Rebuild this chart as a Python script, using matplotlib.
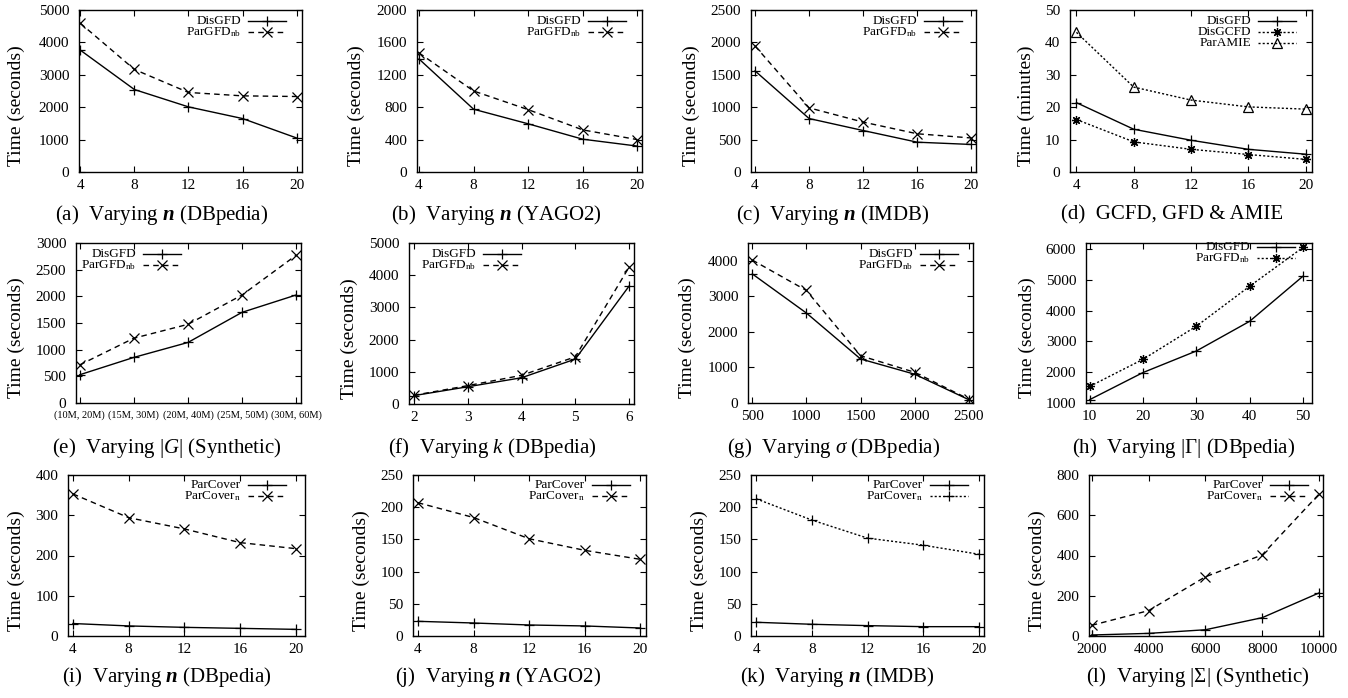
import matplotlib.pyplot as plt

plt.rcParams['font.family'] = ['Liberation Serif', 'DejaVu Serif']
plt.rcParams['mathtext.fontset'] = 'custom'
plt.rcParams['mathtext.rm'] = 'Liberation Serif'
plt.rcParams['mathtext.it'] = 'Liberation Serif:italic'
plt.rcParams['mathtext.bf'] = 'Liberation Serif:bold'
plt.rcParams['mathtext.bfit'] = 'Liberation Serif:bold:italic'

# ---- data ----
n_workers = [4, 8, 12, 16, 20]

dbp_disgfd = [3760, 2545, 2010, 1650, 1050]
dbp_pargfd = [4590, 3165, 2455, 2350, 2330]
yago_disgfd = [1395, 775, 595, 405, 320]
yago_pargfd = [1470, 1000, 770, 520, 400]
imdb_disgfd = [1560, 825, 640, 460, 425]
imdb_pargfd = [1945, 990, 770, 590, 525]

cmp_disgfd = [21.4, 13.2, 9.8, 7.0, 5.5]
cmp_disgcfd = [16.2, 9.3, 7.0, 5.4, 3.9]
cmp_paramie = [43.1, 26.2, 22.2, 20.1, 19.4]

g_sizes = ['(10M, 20M)', '(15M, 30M)', '(20M, 40M)', '(25M, 50M)', '(30M, 60M)']
g_disgfd = [530, 855, 1135, 1700, 2025]
g_pargfd = [715, 1215, 1475, 2025, 2770]

k_values = [2, 3, 4, 5, 6]
k_disgfd = [260, 535, 815, 1395, 3665]
k_pargfd = [270, 570, 890, 1465, 4255]

sigma_values = [500, 1000, 1500, 2000, 2500]
sigma_disgfd = [3630, 2530, 1240, 810, 95]
sigma_pargfd = [4020, 3165, 1330, 865, 110]

gamma_values = [10, 20, 30, 40, 50]
gamma_disgfd = [1110, 1990, 2690, 3655, 5120]
gamma_pargfd = [1540, 2420, 3495, 4795, 6055]

cov_dbp = [31, 25, 21.5, 19, 16.5]
cov_n_dbp = [353, 294, 266, 232, 217]
cov_yago = [22.8, 20.2, 17.1, 15.6, 12.4]
cov_n_yago = [207, 184, 151, 133, 119]
cov_imdb = [21.3, 18.2, 16.1, 14.5, 14.5]
cov_n_imdb = [213, 180, 152, 141, 127]

sigma_sizes = [2000, 4000, 6000, 8000, 10000]
cov_syn = [5, 13, 31, 91, 214]
cov_n_syn = [53, 126, 294, 403, 705]

# ---- styles ----
solid_plus = dict(ls='-', marker='+')
dash_x = dict(ls=(0, (4, 3)), marker='x')
dot_star = dict(ls=(0, (1.5, 1.5)), marker=(8, 2, 0))
dot_tri = dict(ls=(0, (1.5, 1.5)), marker='^', mfc='none')
dot_plus = dict(ls=(0, (1.5, 1.5)), marker='+')

DIS = 'DisGFD'
PAR = 'ParGFD$_{\\mathrm{nb}}$'
COV = 'ParCover'
COVN = 'ParCover$_{\\mathrm{n}}$'
SEC = 'Time (seconds)'

W, H = 1348, 698
fig = plt.figure(figsize=(W / 100, H / 100), dpi=100)

# (box l, r, t, b px), xs, series, xlim, ylim, yticks, legend(side, off, top), ylabel x, caption (x, y, text)
panels = [
    ((79, 302, 10, 172), n_workers, [(DIS, dbp_disgfd, solid_plus), (PAR, dbp_pargfd, dash_x)],
     (3.9, 20.4), (0, 5000), range(0, 5001, 1000), ('r', 16, 11), 17, SEC,
     (162, 215, '(a)  Varying $\\mathbfit{n}$ (DBpedia)')),
    ((417, 642, 10, 172), n_workers, [(DIS, yago_disgfd, solid_plus), (PAR, yago_pargfd, dash_x)],
     (3.85, 20.35), (0, 2000), range(0, 2001, 400), ('r', 16, 11), 357, SEC,
     (496, 215, '(b)  Varying $\\mathbfit{n}$ (YAGO2)')),
    ((751, 976, 10, 172), n_workers, [(DIS, imdb_disgfd, solid_plus), (PAR, imdb_pargfd, dash_x)],
     (3.7, 20.35), (0, 2500), range(0, 2501, 500), ('r', 14, 11), 692, SEC,
     (833, 215, '(c)  Varying $\\mathbfit{n}$ (IMDB)')),
    ((1070, 1312, 10, 172), n_workers, [(DIS, cmp_disgfd, solid_plus), ('DisGCFD', cmp_disgcfd, dot_star),
                                        ('ParAMIE', cmp_paramie, dot_tri)],
     (3.55, 20.45), (0, 50), range(0, 51, 10), ('r', 16, 11), 1027, 'Time (minutes)',
     (1172, 215, '(d)  GCFD, GFD & AMIE')),
    ((76, 301, 243, 403), g_sizes, [(DIS, g_disgfd, solid_plus), (PAR, g_pargfd, dash_x)],
     (-0.07, 4.09), (0, 3000), range(0, 3001, 500), ('l', 67, 11), 17, SEC,
     (167, 448, '(e)  Varying $|G|$ (Synthetic)')),
    ((409, 634, 243, 404), k_values, [(DIS, k_disgfd, solid_plus), (PAR, k_pargfd, dash_x)],
     (1.91, 6.09), (0, 5000), range(0, 5001, 1000), ('l', 74, 11), 350, SEC,
     (492, 448, '(f)  Varying $k$ (DBpedia)')),
    ((748, 973, 243, 403), sigma_values, [(DIS, sigma_disgfd, solid_plus), (PAR, sigma_pargfd, dash_x)],
     (460, 2540), (0, 4500), range(0, 4001, 1000), ('r', 15, 11), 688, SEC,
     (834, 448, '(g)  Varying $\\sigma$ (DBpedia)')),
    ((1086, 1312, 243, 403), gamma_values, [(DIS, gamma_disgfd, solid_plus), (PAR, gamma_pargfd, dot_star)],
     (9.3, 51.7), (1000, 6200), range(1000, 6001, 1000), ('r', 17, 4), 1028, SEC,
     (1184, 448, '(h)  Varying $|\\Gamma|$ (DBpedia)')),
    ((68, 305, 475, 636), n_workers, [(COV, cov_dbp, solid_plus), (COVN, cov_n_dbp, dash_x)],
     (3.65, 20.65), (0, 400), range(0, 401, 100), ('r', 19, 10), 17, SEC,
     (167, 677, '(i)  Varying $\\mathbfit{n}$ (DBpedia)')),
    ((413, 646, 475, 636), n_workers, [(COV, cov_yago, solid_plus), (COVN, cov_n_yago, dash_x)],
     (3.65, 20.4), (0, 250), range(0, 251, 50), ('r', 16, 10), 362, SEC,
     (498, 677, '(j)  Varying $\\mathbfit{n}$ (YAGO2)')),
    ((751, 984, 475, 636), n_workers, [(COV, cov_imdb, solid_plus), (COVN, cov_n_imdb, dot_plus)],
     (3.62, 20.38), (0, 250), range(0, 251, 50), ('r', 16, 10), 700, SEC,
     (837, 677, '(k)  Varying $\\mathbfit{n}$ (IMDB)')),
    ((1089, 1323, 475, 636), sigma_sizes, [(COV, cov_syn, solid_plus), (COVN, cov_n_syn, dash_x)],
     (1905, 10140), (0, 800), range(0, 801, 200), ('r', 15, 10), 1038, SEC,
     (1198, 677, '(l)  Varying $|\\Sigma|$ (Synthetic)')),
]

for box, xs, series, xlim, ylim, yticks, leg, ylx, ylab, cap in panels:
    l, r, t, b = box
    ax = fig.add_axes([l / W, 1 - b / H, (r - l) / W, (b - t) / H])
    w, h = r - l, b - t
    for name, vals, st in series:
        ax.plot(xs, vals, color='black', lw=1.0, ms=6.5, mew=0.9, **st)

    # gnuplot-like key: right-aligned text, sample after it
    side, off, top = leg
    L = 38
    for i, (name, vals, st) in enumerate(series):
        y = 1 - (top + i * 11) / h
        if side == 'r':
            x1 = 1 - off / w
            x0 = x1 - L / w
        else:
            x0 = off / w
            x1 = x0 + L / w
        xm = (x0 + x1) / 2
        ax.plot([x0, xm, x1], [y, y, y], transform=ax.transAxes, color='black', lw=1.0,
                ms=6.5, mew=0.9, markevery=[1], clip_on=False, **st)
        ax.text(x0 - 7 / w, y, name, transform=ax.transAxes, ha='right', va='center', fontsize=9.5)

    ax.set_xlim(*xlim)
    ax.set_ylim(*ylim)
    ax.set_yticks(list(yticks))
    if isinstance(xs[0], str):
        ax.tick_params(axis='x', labelsize=7.5, pad=5)
    else:
        ax.set_xticks(xs)
        ax.tick_params(axis='x', labelsize=11, pad=5)
    ax.tick_params(axis='y', labelsize=11, pad=7)
    ax.tick_params(direction='in', top=True, right=True, length=4, width=0.8)
    for sp in ax.spines.values():
        sp.set_linewidth(1.0)
    ax.set_ylabel(ylab, fontsize=14)
    # label anchor is the right edge of the rotated text; gnuplot puts it a bit below centre
    ax.yaxis.set_label_coords((ylx + 8 - l) / w, 0.5 - 15 / h)
    fig.text(cap[0] / W, 1 - cap[1] / H, cap[2], ha='center', va='center', fontsize=15)

fig.savefig('out.png', dpi=100)
